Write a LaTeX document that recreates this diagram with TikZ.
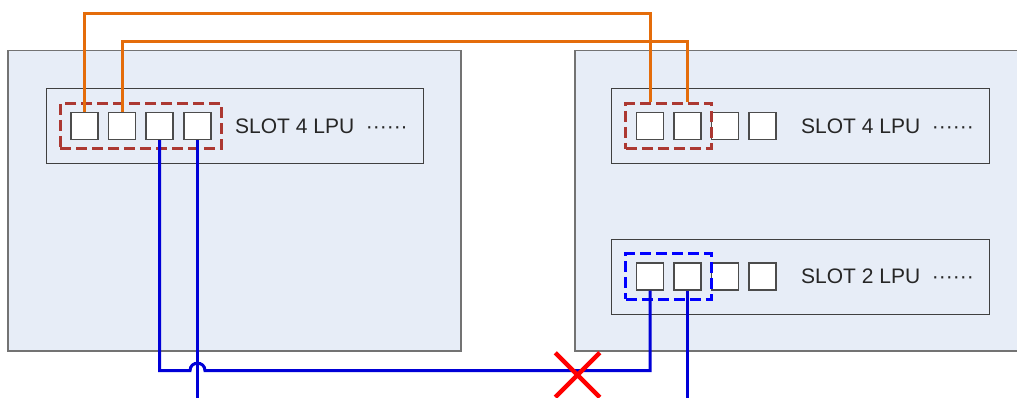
\documentclass[tikz,border=0pt]{standalone}
\usepackage{fontspec}
\setmainfont{Liberation Sans}
\usetikzlibrary{positioning,fit,shapes.misc}
\definecolor{boardfill}{RGB}{231,237,247}
\definecolor{linkorange}{RGB}{228,108,10}
\definecolor{linkblue}{RGB}{0,0,215}
\definecolor{groupred}{RGB}{172,56,50}
\definecolor{groupblue}{RGB}{0,0,255}

\tikzset{
  chassis/.style={draw=black!55, fill=boardfill, line width=1.2pt},
  card/.style={draw=black!75, fill=boardfill, line width=1pt},
  port/.style={draw=black!70, fill=white, line width=1.2pt, minimum size=27pt, inner sep=0pt},
  lag/.style={line width=3pt, dash pattern=on 11pt off 5pt, inner xsep=10pt, inner ysep=8.5pt},
  slotname/.style={anchor=base west, inner sep=0pt, text=black!85},
  olink/.style={linkorange, line width=3pt},
  blink/.style={linkblue, line width=3pt}
}
\newcommand{\moredots}{\hspace{0.55em}······}

\begin{document}
\begin{tikzpicture}[x=1pt, y=-1pt, font=\fontsize{21}{25}\selectfont]
\useasboundingbox (0,0) rectangle (1017,398);
% chassis
\draw[chassis] (8,50.7) rectangle (461,351);
\draw[chassis] (575,50.7) rectangle (1030,351);
% boards
\draw[card] (46,88.3) rectangle (423,163.5);
\draw[card] (611.5,88.3) rectangle (989,164);
\draw[card] (611.5,239) rectangle (989,314.3);
% ports
\foreach \i/\x in {1/84.5, 2/122, 3/159.5, 4/197.5}
  \node[port] (L\i) at (\x,126) {};
\foreach \i/\x in {1/650, 2/687.5, 3/725, 4/762.5}
  \node[port] (A\i) at (\x,126) {};
\foreach \i/\x in {1/650, 2/687.5, 3/725, 4/762.5}
  \node[port] (B\i) at (\x,276.5) {};
% slot labels
\node[slotname] (nameL) at (235,133.5) {SLOT 4 LPU\moredots};
\node[slotname] (nameA) at (801,133.5) {SLOT 4 LPU\moredots};
\node[slotname] (nameB) at (801,283.5) {SLOT 2 LPU\moredots};
% port groups
\node[lag, draw=groupred, fit=(L1)(L4)] (grpL) {};
\node[lag, draw=groupred, fit=(A1)(A2)] (grpA) {};
\node[lag, draw=groupblue, fit=(B1)(B2)] (grpB) {};
% orange links
\draw[olink] (L1.north) |- (650,14) -- (A1 |- grpA.north);
\draw[olink] (L2.north) |- (687.5,41.3) -- (A2 |- grpA.north);
% blue links
\coordinate (endL) at (197.5,400);
\coordinate (endB) at (687.5,400);
\draw[blink] (L3.south) |- (190,370.7) .. controls (190,360.7) and (205,360.7) .. (205,370.7) -| (B1.south);
\draw[blink] (L4.south) -- (endL);
\draw[blink] (B2.south) -- (endB);
% broken link
\node[cross out, draw=red, line width=4.5pt, minimum size=40pt, inner sep=0pt] (cut) at (577.5,375) {};
\end{tikzpicture}
\end{document}
